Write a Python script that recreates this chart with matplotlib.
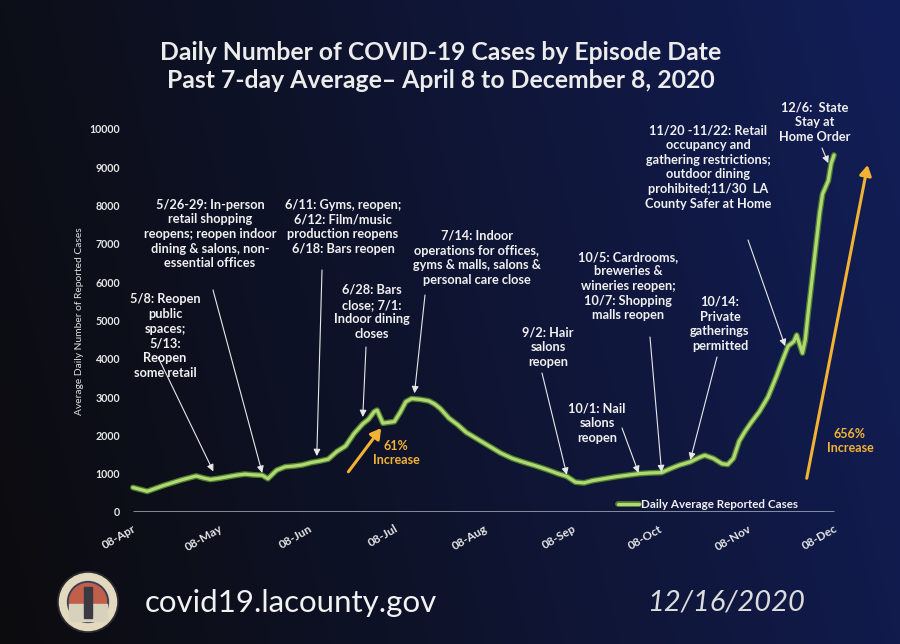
import matplotlib

matplotlib.use("Agg")
import matplotlib.pyplot as plt
import matplotlib.patheffects as pe
from matplotlib.patches import Circle, Rectangle
import numpy as np
import pandas as pd


START = pd.Timestamp("2020-04-08")

# days after Apr 8 and the 7-day average
day_offset = [0, 2, 5, 8, 11, 14, 17, 20, 22, 25, 27, 30, 33, 36, 39, 42, 45, 47, 50, 53,
              56, 59, 62, 65, 68, 71, 74, 77, 80, 82, 84, 85, 87, 89, 91, 93, 95, 97, 100, 103,
              105, 107, 110, 113, 116, 120, 124, 128, 132, 136, 140, 144, 148, 151, 154, 157, 160, 164, 168, 172,
              176, 180, 184, 187, 190, 194, 197, 199, 202, 205, 207, 209, 211, 213, 215, 218, 221, 224, 226, 228,
              230, 231, 233, 234, 235, 237, 239, 240, 242, 243, 244]
avg_cases = [640, 600, 540, 620, 700, 770, 840, 900, 940, 880, 850, 880, 920, 960, 990, 970, 960, 870, 1090, 1180,
             1200, 1230, 1290, 1330, 1380, 1580, 1720, 2050, 2300, 2420, 2620, 2660, 2320, 2340, 2360, 2600, 2880, 2960, 2940, 2900,
             2820, 2700, 2450, 2280, 2080, 1900, 1720, 1540, 1400, 1300, 1210, 1110, 1000, 930, 780, 760, 820, 870, 920, 960,
             1000, 1020, 1030, 1130, 1220, 1310, 1420, 1480, 1400, 1260, 1240, 1400, 1850, 2100, 2320, 2620, 3000, 3550, 3950, 4330,
             4450, 4620, 4150, 4500, 5200, 6500, 7800, 8300, 8650, 9100, 9320]

month_ticks = ["2020-04-08", "2020-05-08", "2020-06-08", "2020-07-08", "2020-08-08",
               "2020-09-08", "2020-10-08", "2020-11-08", "2020-12-08"]
month_labels = ["08-Apr", "08-May", "08-Jun", "08-Jul", "08-Aug", "08-Sep", "08-Oct", "08-Nov", "08-Dec"]
y_ticks = [0, 1000, 2000, 3000, 4000, 5000, 6000, 7000, 8000, 9000, 10000]

notes = [
    "5/8: Reopen\npublic\nspaces;\n5/13:\nReopen\nsome retail",
    "5/26-29: In-person\nretail shopping\nreopens; reopen indoor\ndining & salons, non-\nessential offices",
    "6/11: Gyms, reopen;\n6/12: Film/music\nproduction reopens\n6/18: Bars reopen",
    "6/28: Bars\nclose; 7/1:\nIndoor dining\ncloses",
    "7/14: Indoor\noperations for offices,\ngyms & malls, salons &\npersonal care close",
    "9/2: Hair\nsalons\nreopen",
    "10/1: Nail\nsalons\nreopen",
    "10/5: Cardrooms,\nbreweries &\nwineries reopen;\n10/7: Shopping\nmalls reopen",
    "10/14:\nPrivate\ngatherings\npermitted",
    "11/20 -11/22: Retail\noccupancy and\ngathering restrictions;\noutdoor dining\nprohibited;11/30  LA\nCounty Safer at Home",
    "12/6:  State\nStay at\nHome Order",
]
note_tip_day = [28, 45, 64, 80, 98, 151, 176, 184, 194, 227, 242]
note_tip_val = [1060, 1020, 1460, 2480, 3100, 970, 1020, 1040, 1360, 4330, 9110]

# orange growth arrows: (day, value) tail and head
growth_labels = ["61%\nIncrease", "656%\nIncrease"]
growth_tail_day = [75, 234.5]
growth_tail_val = [1050, 880]
growth_head_day = [86.4, 255.7]
growth_head_val = [2190, 9060]

W, H = 900, 644


def fx(x):
    return x / W


def fy(y):
    return 1 - y / H


def day(d):
    return START + pd.Timedelta(days=float(d))


plt.rcParams["font.family"] = ["Lato", "DejaVu Sans"]
fig = plt.figure(figsize=(9, 6.44), dpi=100)

# background gradient
bg = fig.add_axes([0, 0, 1, 1], zorder=-10)
gx = np.linspace(0, 1, 300)[None, :]
gy = np.linspace(0, 1, 200)[:, None]
t = np.clip(0.85 * gx + 0.15 * (1 - gy), 0, 1) ** 1.1
left = np.array([12, 12, 15]) / 255
right = np.array([18, 30, 88]) / 255
img = left[None, None, :] * (1 - t[..., None]) + right[None, None, :] * t[..., None]
bg.imshow(img, aspect="auto", extent=[0, 1, 0, 1], origin="upper")
bg.axis("off")

ax = fig.add_axes([fx(130), fy(512), fx(880) - fx(130), (512 - 129) / H])
ax.set_facecolor("none")
dates = [day(d) for d in day_offset]
ax.plot(dates, avg_cases, color="#b0d874", lw=2.3, solid_capstyle="round", zorder=3,
        label="Daily Average Reported Cases",
        path_effects=[pe.Stroke(linewidth=4.2, foreground="#4f7d2c"), pe.Normal()])
ax.hlines(0, dates[0], pd.Timestamp(month_ticks[-1]), color="#aab0bf", lw=1.8, zorder=2)

ax.set_xlim(START - pd.Timedelta(days=1), START + pd.Timedelta(days=260))
ax.set_ylim(0, 10000)
for s in ax.spines.values():
    s.set_visible(False)
ax.set_xticks(pd.to_datetime(month_ticks))
ax.set_xticklabels(month_labels, rotation=30, ha="right", rotation_mode="anchor",
                   fontsize=8.5, color="#e6e6e6", fontweight="bold")
ax.set_yticks(y_ticks)
ax.set_yticklabels([str(v) for v in y_ticks], fontsize=7.7, color="#e6e6e6", fontweight="bold")
ax.tick_params(length=0)
ax.tick_params(axis="y", pad=7)
ax.tick_params(axis="x", pad=8)

fig.text(fx(80), fy(321), "Average Daily Number of Reported Cases", rotation=90,
         ha="center", va="center", fontsize=7.4, color="#e0e0e0")

fig.text(fx(441), fy(52), "Daily Number of COVID-19 Cases by Episode Date",
         ha="center", va="center", fontsize=17.8, fontweight="bold", color="#ececec")
fig.text(fx(441), fy(80), "Past 7-day Average\u2013 April 8 to December 8, 2020",
         ha="center", va="center", fontsize=17.8, fontweight="bold", color="#ececec")

note_xy = [(165, 336), (210, 234), (343, 227), (372, 312), (477, 258), (548, 347),
           (597, 423), (628, 286), (720, 324), (708, 167), (815, 122)]
arrow_from = [(158, 357), (213, 290), (322, 270), (366, 347), (425, 295), (542, 373),
              (622, 428), (650, 337), (717, 357), (748, 240), (822, 148)]
for text, (tx, ty), (sx, sy), td, tv in zip(notes, note_xy, arrow_from, note_tip_day, note_tip_val):
    ax.annotate("", xy=(day(td), tv), xycoords="data",
                xytext=(fx(sx), fy(sy)), textcoords="figure fraction",
                arrowprops=dict(arrowstyle="-|>,head_length=0.5,head_width=0.25", color="#e8e8e8",
                                lw=0.8, shrinkA=0, shrinkB=0, mutation_scale=8),
                zorder=4, annotation_clip=False)
    fig.text(fx(tx), fy(ty), text, ha="center", va="center", multialignment="center",
             fontsize=9.2, fontweight="bold", color="#f0f0f0", linespacing=1.27)

growth_xy = [(396, 453), (850, 441)]
for label, (lx, ly), d0, v0, d1, v1 in zip(growth_labels, growth_xy, growth_tail_day, growth_tail_val,
                                           growth_head_day, growth_head_val):
    ax.annotate("", xy=(day(d1), v1), xytext=(day(d0), v0),
                arrowprops=dict(arrowstyle="-|>,head_length=0.6,head_width=0.35", color="#f2b233",
                                lw=2.2, shrinkA=0, shrinkB=0, mutation_scale=10),
                annotation_clip=False, zorder=4)
    fig.text(fx(lx), fy(ly), label, ha="center", va="center", fontsize=9, fontweight="bold",
             color="#f2b233", linespacing=1.3)

leg = ax.legend(loc="lower left", bbox_to_anchor=(fx(612), fy(516)), bbox_transform=fig.transFigure,
                frameon=False, prop={"size": 8.4, "weight": "bold"}, handlelength=1.8,
                handletextpad=0.2, borderpad=0)
for txt in leg.get_texts():
    txt.set_color("#f0f0f0")

# county seal
logo = fig.add_axes([fx(57), fy(633), 62 / W, 62 / H])
logo.set_xlim(-1, 1)
logo.set_ylim(-1, 1)
logo.set_aspect("equal")
logo.axis("off")
logo.add_patch(Circle((0, 0), 0.98, color="#2a2a30"))
logo.add_patch(Circle((0, 0), 0.92, color="#e2d9bf"))
logo.add_patch(Circle((0, 0), 0.66, color="#3a3f5a"))
logo.add_patch(Circle((0, 0), 0.6, color="#c0604a"))
logo.add_patch(Rectangle((-0.6, -0.6), 1.2, 0.55, color="#d8d2bc"))
logo.add_patch(Rectangle((-0.12, -0.5), 0.24, 1.0, color="#3b3a44"))

fig.text(fx(145), fy(603), "covid19.lacounty.gov", ha="left", va="center", fontsize=22.5, color="#f2f2f2")
fig.text(fx(805), fy(603), "12/16/2020", ha="right", va="center", fontsize=21, style="italic",
         color="#dcdcdc")

fig.savefig("out.png", dpi=100, facecolor="#0e0e14")
